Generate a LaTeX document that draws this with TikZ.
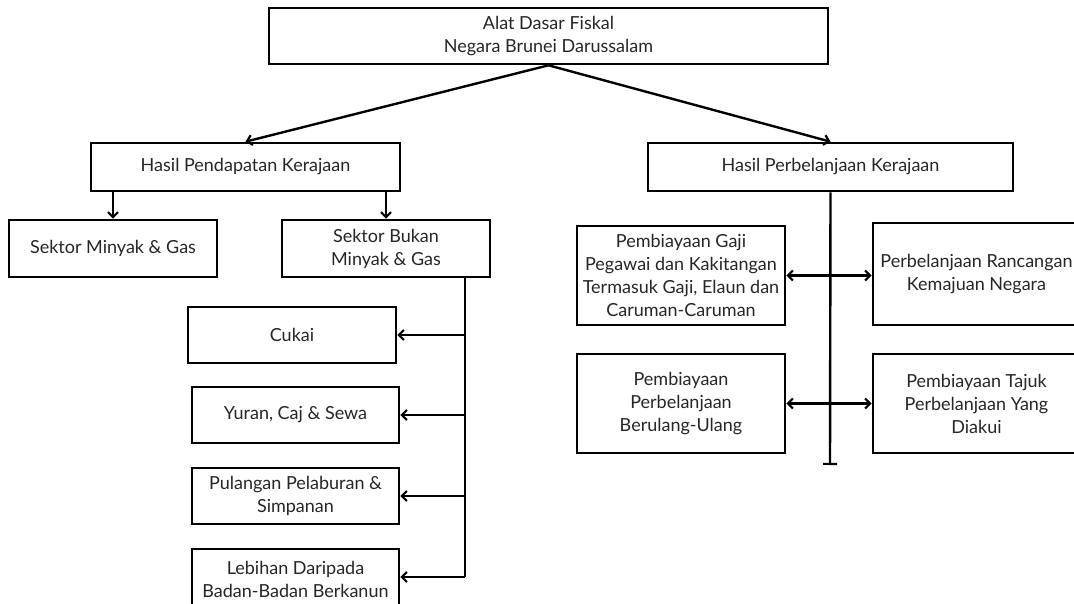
\documentclass[tikz,border=0pt]{standalone}
\usepackage{fontspec}
\setmainfont{Lato}
\usetikzlibrary{arrows.meta}
\begin{document}
\begin{tikzpicture}[x=1pt,y=-1pt,
  box/.style={draw=black,line width=2.6pt,rectangle,inner sep=0pt,align=center,
    font=\fontsize{18}{23}\selectfont,text=black!85},
  conn/.style={line width=2.4pt,-{Straight Barb[length=5pt,width=10pt,line width=2.2pt]}},
  dconn/.style={line width=2.4pt,{Straight Barb[length=5pt,width=10pt,line width=2.2pt]}-{Straight Barb[length=5pt,width=10pt,line width=2.2pt]}},
  plain/.style={line width=2.4pt}]
\useasboundingbox (0,0) rectangle (1074,604);
\clip (0,0) rectangle (1074,604);
\node[box,minimum width=559pt,minimum height=56pt] (top) at (548.5,36) {Alat Dasar Fiskal\\Negara Brunei Darussalam};
\node[box,minimum width=309pt,minimum height=48pt] (hp) at (245.5,167) {Hasil Pendapatan Kerajaan};
\node[box,minimum width=365pt,minimum height=48pt] (hb) at (830.5,167) {Hasil Perbelanjaan Kerajaan};
\node[box,minimum width=208pt,minimum height=57pt] (smg) at (113,248.5) {Sektor Minyak \& Gas};
\node[box,minimum width=208pt,minimum height=57pt] (sbm) at (386,248.5) {Sektor Bukan\\Minyak \& Gas};
\node[box,minimum width=208pt,minimum height=56pt] (cukai) at (292,335) {Cukai};
\node[box,minimum width=207pt,minimum height=56pt] (yuran) at (295.5,415) {Yuran, Caj \& Sewa};
\node[box,minimum width=207pt,minimum height=56pt] (pul) at (295.5,496) {Pulangan Pelaburan \&\\Simpanan};
\node[box,minimum width=207pt,minimum height=60pt] (leb) at (295.5,579) {Lebihan Daripada\\Badan-Badan Berkanun};
\node[box,minimum width=208pt,minimum height=99pt] (gaji) at (681,275.5) {Pembiayaan Gaji\\Pegawai dan Kakitangan\\Termasuk Gaji, Elaun dan\\Caruman-Caruman};
\node[box,minimum width=207pt,minimum height=102pt] (ranc) at (976.5,274) {Perbelanjaan Rancangan\\Kemajuan Negara};
\node[box,minimum width=208pt,minimum height=99pt] (berul) at (681,403.5) {Pembiayaan\\Perbelanjaan\\Berulang-Ulang};
\node[box,minimum width=207pt,minimum height=99pt] (tajuk) at (976.5,403.5) {Pembiayaan Tajuk\\Perbelanjaan Yang\\Diakui};
% top connectors
\draw[conn] (top.south) -- (hp.north);
\draw[conn] (top.south) -- (hb.north);
\draw[conn] (smg.north |- hp.south) -- (smg.north);
\draw[conn] (sbm.north |- hp.south) -- (sbm.north);
% left trunk
\coordinate (lt) at (465,277);
\coordinate (lb) at (465,577);
\draw[plain] (lt) -- (lb);
\draw[conn] (lt |- cukai.east) -- (cukai.east);
\draw[conn] (lt |- yuran.east) -- (yuran.east);
\draw[conn] (lt |- pul.east) -- (pul.east);
\draw[conn] (lb) -- (leb.east |- lb);
% right trunk
\coordinate (rb) at (830,465);
\draw[line width=2.4pt,-{Bar[width=14pt,line width=2.2pt]}] (hb.south) -- (rb);
\draw[dconn] (gaji.east) -- (ranc.west |- gaji.east);
\draw[dconn] (berul.east) -- (tajuk.west);
\end{tikzpicture}
\end{document}
